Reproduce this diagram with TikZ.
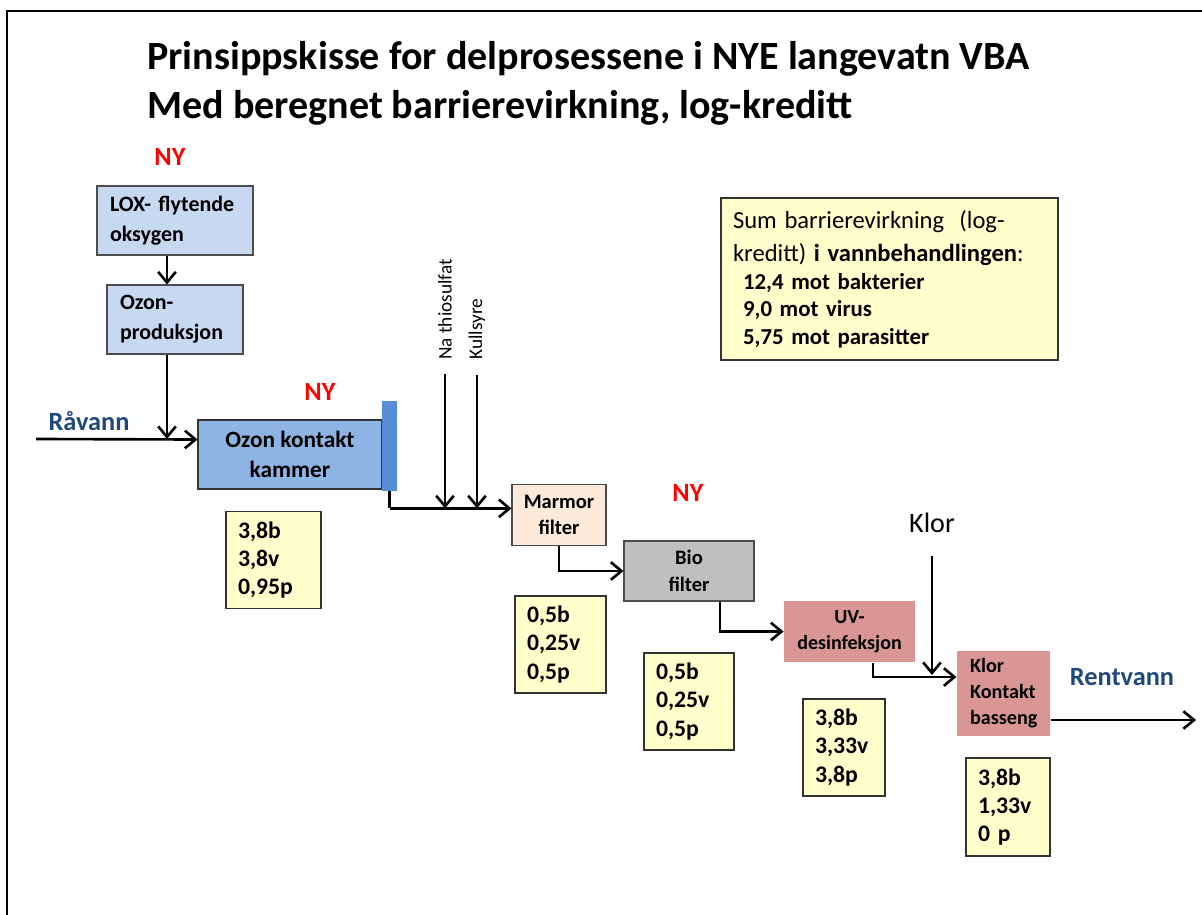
\documentclass[tikz,border=0pt]{standalone}
\usepackage{fontspec}
\setmainfont{Carlito}
\usetikzlibrary{arrows.meta}

\definecolor{boxblue}{HTML}{C6D9F1}
\definecolor{kamblue}{HTML}{8EB4E3}
\definecolor{stripblue}{HTML}{558ED5}
\definecolor{marmorfill}{HTML}{FDEADA}
\definecolor{biogray}{HTML}{BFBFBF}
\definecolor{uvrose}{HTML}{D99694}
\definecolor{valfill}{HTML}{FFFFCC}
\definecolor{labelblue}{HTML}{1F497D}

\tikzset{
  flow/.style={line width=1.5pt, -{Straight Barb[length=6pt,width=10pt,line width=1.5pt]}},
  pipe/.style={line width=1.5pt},
  unit/.style={draw=black!70, line width=0.6pt, inner sep=0pt, align=center},
  valbox/.style={draw=black!80, fill=valfill, line width=0.7pt, inner sep=0pt,
    font=\fontsize{13.5}{16}\selectfont\bfseries, align=left},
  newtag/.style={text=red, font=\fontsize{15}{18}\selectfont\bfseries},
  flowlbl/.style={text=labelblue, font=\fontsize{15}{18}\selectfont\bfseries},
  dose/.style={font=\fontsize{11}{13}\selectfont, rotate=90, anchor=west, inner sep=0pt}
}

\begin{document}
\begin{tikzpicture}[x=0.02cm, y=-0.02cm]
\useasboundingbox (0,0) rectangle (1202,915);
\draw[line width=1pt] (7,915) -- (7,11) -- (1202,11);

% title
\node[anchor=base west, inner sep=0pt, font=\fontsize{22.8}{27}\selectfont\bfseries] (title1) at (147,70) {Prinsippskisse for delprosessene i NYE langevatn VBA};
\node[anchor=base west, inner sep=0pt, font=\fontsize{22.8}{27}\selectfont\bfseries] (title2) at (147,119) {Med beregnet barrierevirkning, log-kreditt};

% ozone line
\node[newtag] (ny1) at (170,157) {NY};
\node[unit, fill=boxblue, minimum width=3.12cm, minimum height=1.38cm, text width=2.6cm, align=left,
  font=\fontsize{12.5}{17}\selectfont\bfseries] (lox) at (175,220.5) {LOX- flytende\\oksygen};
\node[unit, fill=boxblue, minimum width=2.72cm, minimum height=1.38cm, text width=2.2cm, align=left,
  font=\fontsize{12.5}{17}\selectfont\bfseries] (ozprod) at (175,319.5) {Ozon-\\produksjon};
\draw[flow] ([xshift=-0.16cm]lox.south) -- ([xshift=-0.16cm]ozprod.north);

\node[flowlbl] (raa) at (89,421) {Råvann};
\node[newtag] (ny2) at (320,392) {NY};
\node[unit, draw=black!80, fill=kamblue, minimum width=3.68cm, minimum height=1.38cm,
  font=\fontsize{13.3}{17}\selectfont\bfseries] (kammer) at (290,454.5) {Ozon kontakt\\kammer};
\node[fill=stripblue, inner sep=0pt, minimum width=0.3cm, minimum height=1.8cm] (strip) at (389.5,446) {};
\coordinate (inn) at (36,439);
\draw[flow] (inn) -- ([yshift=0.3cm]kammer.west);
\draw[flow] ([xshift=-0.16cm]ozprod.south) -- ([xshift=-0.16cm]ozprod.south |- inn);
\node[valbox, minimum width=1.9cm, minimum height=1.94cm, text width=1.42cm] (v1) at (273.5,560) {3,8b\\3,8v\\0,95p};

% chemicals and marble filter
\node[dose] (nathio) at (445,360) {Na thiosulfat};
\node[dose] (kull) at (477,360) {Kullsyre};
\node[unit, fill=marmorfill, minimum width=1.88cm, minimum height=1.22cm,
  font=\fontsize{11.7}{15}\selectfont\bfseries] (marmor) at (559,515) {Marmor\\filter};
\draw[pipe] (strip.south) -- ++(0,17) coordinate (bend1);
\draw[flow] (bend1) -- (bend1 -| marmor.west);
\draw[flow] (nathio.west) ++(0,14) -- (nathio.west |- bend1);
\draw[flow] (kull.west) ++(0,15) -- (kull.west |- bend1);
\node[valbox, minimum width=1.82cm, minimum height=1.94cm, text width=1.34cm] (v2) at (560.5,644.5) {0,5b\\0,25v\\0,5p};

% bio filter
\node[newtag] (ny3) at (688,493) {NY};
\node[unit, fill=biogray, minimum width=2.6cm, minimum height=1.2cm,
  font=\fontsize{11.7}{15}\selectfont\bfseries] (bio) at (689,571) {Bio\\filter};
\draw[flow] (marmor.south) |- (bio.west);
\node[valbox, minimum width=1.8cm, minimum height=1.94cm, text width=1.32cm] (v3) at (689,701.5) {0,5b\\0,25v\\0,5p};

% UV
\node[unit, draw=none, fill=uvrose, minimum width=2.62cm, minimum height=1.22cm,
  font=\fontsize{11.4}{15}\selectfont\bfseries] (uv) at (849.5,631.5) {UV-\\desinfeksjon};
\draw[flow] ([xshift=0.62cm]bio.south) |- (uv.west);
\node[valbox, minimum width=1.64cm, minimum height=1.94cm, text width=1.16cm] (v4) at (844,747.5) {3,8b\\3,33v\\3,8p};

% chlorine
\node[font=\fontsize{16}{19}\selectfont] (klor) at (932,523) {Klor};
\node[unit, draw=none, fill=uvrose, minimum width=1.86cm, minimum height=1.7cm, text width=1.34cm, align=left,
  font=\fontsize{11.5}{15}\selectfont\bfseries] (kkb) at (1003.5,693) {Klor\\Kontakt\\basseng};
\draw[flow] ([xshift=0.47cm]uv.south) |- ([yshift=0.32cm]kkb.west);
\draw[flow] (klor.south) ++(0,17) -- ++(0,119);
\node[valbox, minimum width=1.68cm, minimum height=1.96cm, text width=1.2cm] (v5) at (1008,807) {3,8b\\1,33v\\0 p};

\node[flowlbl] (rent) at (1122,677) {Rentvann};
\coordinate (ut) at (1196,720);
\draw[flow] (kkb.east |- ut) -- (ut);

% summary
\node[draw=black!80, fill=valfill, line width=0.7pt, minimum width=6.74cm, minimum height=3.24cm,
  text width=6.26cm, align=left, inner sep=0pt, font=\fontsize{13}{15.5}\selectfont] (sum) at (889.5,279)
  {\fontsize{14}{17}\selectfont Sum barrierevirkning~~(log-\\
   \fontsize{14}{19}\selectfont kreditt) \textbf{i vannbehandlingen}:\\
   \fontsize{13}{16}\selectfont\bfseries\hspace*{0.2cm}12,4 mot bakterier\\
   \fontsize{13}{15.5}\selectfont\bfseries\hspace*{0.2cm}9,0 mot virus\\
   \fontsize{13}{15.5}\selectfont\bfseries\hspace*{0.2cm}5,75 mot parasitter};
\end{tikzpicture}
\end{document}
